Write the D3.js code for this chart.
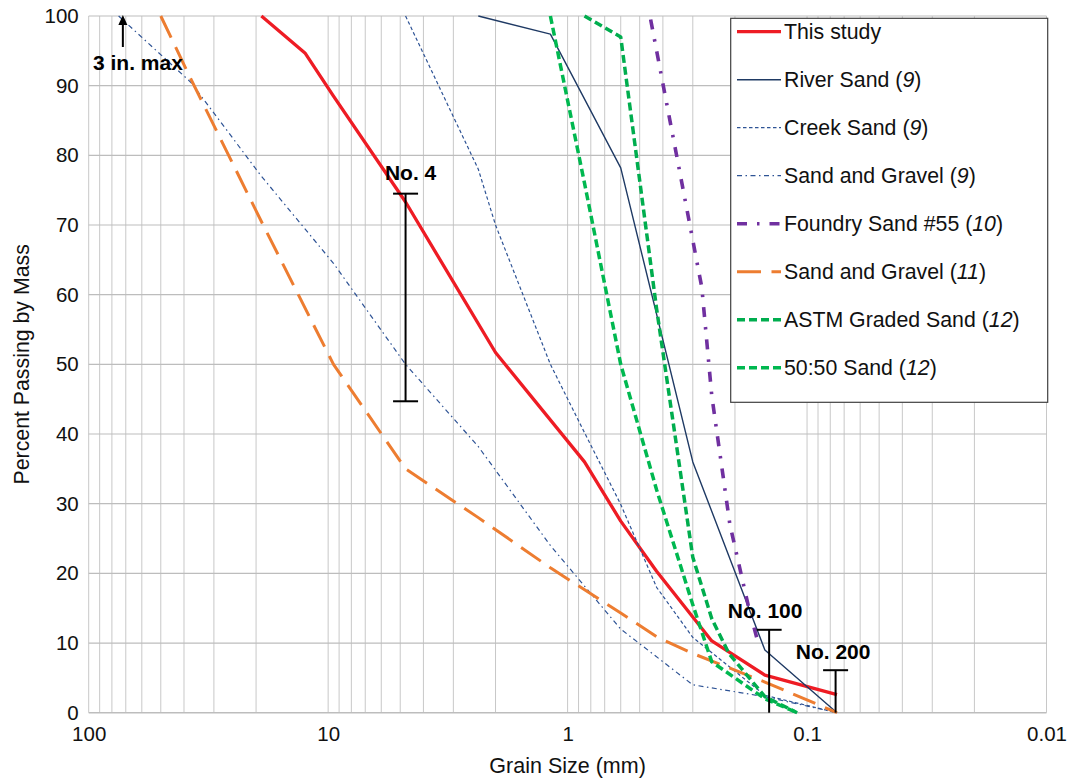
<!DOCTYPE html>
<html>
<head>
<meta charset="utf-8">
<script src="https://cdn.jsdelivr.net/npm/d3@7"></script>
<style>
body { margin: 0; background: #fff; }
svg { font-family: "Liberation Sans", Arial, Helvetica, sans-serif; }
</style>
</head>
<body>
<script>
/*Grain size (mm), percent passing by mass*/
var thisStudy = [[19,100],[12.5,94.7],[9.5,88.5],[4.75,73.3],[2.0,51.7],[0.85,36],[0.6,27.5],[0.425,20.3],[0.25,10.3],[0.15,5.4],[0.075,2.6]]
var riverSand = [[2.36,100],[1.18,97.4],[0.6,78.2],[0.3,36],[0.15,9],[0.075,0]]
var creekSand = [[4.75,100],[2.36,78],[2.0,70],[1.18,50],[0.85,40.2],[0.6,29.9],[0.425,18],[0.3,10.8],[0.15,2.5],[0.075,0]]
var sandGravel9 = [[75,100],[37.5,90.5],[19,77],[9.5,64.5],[4.75,50],[2.36,38.2],[1.18,24],[0.6,12],[0.3,4],[0.15,2.3],[0.075,0]]
var foundrySand = [[0.45,99.5],[0.275,61],[0.25,45.5],[0.21,27],[0.175,15],[0.16,10]]
var sandGravel11 = [[50,100],[37.5,91],[19,70.5],[9.5,50],[4.75,35],[2.36,28],[1.18,20.8],[0.6,14.3],[0.425,10.9],[0.3,8.5],[0.15,4.4],[0.075,0]]
var astmSand = [[0.85,100],[0.6,97],[0.425,58],[0.3,22.3],[0.25,13.5],[0.212,8.5],[0.15,2.3],[0.11,0]]
var sand5050 = [[1.18,100],[0.85,76],[0.6,50],[0.425,32],[0.3,15.5],[0.25,7.3],[0.15,2],[0.11,0]]

var seriesNames = ["This study", "River Sand", "Creek Sand", "Sand and Gravel", "Foundry Sand #55", "Sand and Gravel", "ASTM Graded Sand", "50:50 Sand"]
var seriesRefs = ["", "9", "9", "9", "10", "11", "12", "12"]

/*Axis ticks*/
var xTickValues = [100, 10, 1, 0.1, 0.01]
var xTickLabels = ["100", "10", "1", "0.1", "0.01"]
var yTickValues = [0, 10, 20, 30, 40, 50, 60, 70, 80, 90, 100]

/*Sieve marks: size, low, high, label*/
var sieveSizes = [4.75, 0.144, 0.076]
var sieveLow = [44.7, 0, 0]
var sieveHigh = [74.5, 11.9, 6.1]
var sieveLabels = ["No. 4", "No. 100", "No. 200"]

var maxSize = 72

/*styles for each series*/
var seriesData = [thisStudy, riverSand, creekSand, sandGravel9, foundrySand, sandGravel11, astmSand, sand5050]
var seriesStyle = [
	{color: "#ee1c24", width: 3.3, dash: null},
	{color: "#1f3a64", width: 1.4, dash: null},
	{color: "#2e5395", width: 1.2, dash: "3.5,2.5"},
	{color: "#2e5395", width: 1.2, dash: "5,3.5,1.5,3.5"},
	{color: "#7030a0", width: 3.6, dash: "10,10,2.5,10"},
	{color: "#ed7d31", width: 3, dash: "24,10.5"},
	{color: "#00ad4e", width: 3.5, dash: "8,4"},
	{color: "#00b850", width: 3.5, dash: "8,4"}
]

var width = 1067, height = 780
var plot = {left: 88.7, right: 1046.5, top: 16, bottom: 712.7}

var svg = d3.select("body").append("svg")
			.attr("width", width)
			.attr("height", height)

var xScale = d3.scaleLog().domain([100, 0.01]).range([plot.left, plot.right])
var yScale = d3.scaleLinear().domain([0, 100]).range([plot.bottom, plot.top])

/*grid lines*/
var minor = []
for (var e = -2; e <= 1; e++) {
	for (var k = 1; k <= 9; k++) minor.push(k * Math.pow(10, e))
}
minor.push(100)

var grid = svg.append("g").attr("class", "grid")

grid.selectAll(".vline").data(minor).enter()
	.append("line")
	.attr("class", "vline")
	.attr("x1", function(d){return xScale(d)})
	.attr("x2", function(d){return xScale(d)})
	.attr("y1", plot.top)
	.attr("y2", plot.bottom)
	.attr("stroke", "#c8c8c8")
	.attr("stroke-width", 1)

grid.selectAll(".hline").data(yTickValues).enter()
	.append("line")
	.attr("class", "hline")
	.attr("x1", plot.left)
	.attr("x2", plot.right)
	.attr("y1", function(d){return yScale(d)})
	.attr("y2", function(d){return yScale(d)})
	.attr("stroke", "#bdbdbd")
	.attr("stroke-width", d => d == 0 ? 1.6 : 1.2)

/*axes*/
var yAxis = d3.axisLeft(yScale).tickValues(yTickValues).tickSize(0).tickPadding(10)
var xAxis = d3.axisBottom(xScale).tickValues(xTickValues).tickSize(0).tickPadding(14)
			.tickFormat(function(d, i){return xTickLabels[i]})

var gy = svg.append("g").attr("transform", "translate(" + plot.left + ",0)").call(yAxis)
var gx = svg.append("g").attr("transform", "translate(0," + plot.bottom + ")").call(xAxis)

gy.select(".domain").remove()
gx.select(".domain").remove()
svg.selectAll(".tick text")
	.attr("font-size", 20.5)
	.attr("font-family", "Liberation Sans, Arial, sans-serif")
	.attr("fill", "#111")

svg.append("text")
	.attr("x", (plot.left + plot.right) / 2)
	.attr("y", 773)
	.attr("text-anchor", "middle")
	.attr("font-size", 21.5)
	.attr("fill", "#111")
	.text("Grain Size (mm)")

svg.append("text")
	.attr("transform", "translate(29," + (plot.top + plot.bottom) / 2 + ") rotate(-90)")
	.attr("text-anchor", "middle")
	.attr("font-size", 21.3)
	.attr("fill", "#111")
	.text("Percent Passing by Mass")

/*series lines*/
svg.append("clipPath").attr("id", "plotclip")
	.append("rect")
	.attr("x", plot.left).attr("y", plot.top - 2)
	.attr("width", plot.right - plot.left).attr("height", plot.bottom - plot.top + 4)

var line = d3.line()
	.x(function(d){return xScale(d[0])})
	.y(function(d){return yScale(d[1])})

svg.append("g").attr("clip-path", "url(#plotclip)")
	.selectAll("path").data(seriesData).enter()
	.append("path")
	.attr("d", line)
	.attr("fill", "none")
	.attr("stroke", function(d, i){return seriesStyle[i].color})
	.attr("stroke-width", function(d, i){return seriesStyle[i].width})
	.attr("stroke-dasharray", function(d, i){return seriesStyle[i].dash})
	.attr("stroke-linejoin", "round")

/*sieve range bars*/
var labelShift = [[5, -13.7], [-4, -12], [-2.5, -11]]
var bars = svg.append("g").attr("class", "sieves")
sieveSizes.forEach(function(s, i){
	var bx = xScale(s)
	var top = yScale(sieveHigh[i]), bot = yScale(sieveLow[i])
	bars.append("line").attr("x1", bx).attr("x2", bx).attr("y1", top).attr("y2", bot)
		.attr("stroke", "#000").attr("stroke-width", 2)
	bars.append("line").attr("x1", bx - 12.5).attr("x2", bx + 12.5).attr("y1", top).attr("y2", top)
		.attr("stroke", "#000").attr("stroke-width", 2)
	if (sieveLow[i] > 0) {
		bars.append("line").attr("x1", bx - 12.5).attr("x2", bx + 12.5).attr("y1", bot).attr("y2", bot)
			.attr("stroke", "#000").attr("stroke-width", 2)
	}
	bars.append("text")
		.attr("x", bx + labelShift[i][0])
		.attr("y", top + labelShift[i][1])
		.attr("text-anchor", "middle")
		.attr("font-size", 21)
		.attr("font-weight", "bold")
		.text(sieveLabels[i])
})

/*3 in. max arrow*/
var ax = xScale(maxSize)
svg.append("line").attr("x1", ax).attr("x2", ax).attr("y1", 47).attr("y2", 24)
	.attr("stroke", "#000").attr("stroke-width", 2)
svg.append("path")
	.attr("d", "M" + (ax - 4.5) + "," + 25 + " L" + ax + "," + 15 + " L" + (ax + 4.5) + "," + 25 + " Z")
	.attr("fill", "#000")
svg.append("text")
	.attr("x", 93)
	.attr("y", 70)
	.attr("font-size", 21)
	.attr("font-weight", "bold")
	.text("3 in. max")

/*legend*/
var legend = svg.append("g").attr("class", "legend")
legend.append("rect")
	.attr("x", 730.7).attr("y", 18.3)
	.attr("width", 317).attr("height", 384)
	.attr("fill", "#fff")
	.attr("stroke", "#404040")
	.attr("stroke-width", 1.2)

var rows = legend.selectAll(".row").data(seriesNames).enter()
	.append("g")
	.attr("class", "row")
	.attr("transform", function(d, i){return "translate(0," + (31.7 + i * 48) + ")"})

rows.append("line")
	.attr("x1", 737).attr("x2", 781)
	.attr("y1", 0).attr("y2", 0)
	.attr("stroke", function(d, i){return seriesStyle[i].color})
	.attr("stroke-width", function(d, i){return seriesStyle[i].width})
	.attr("stroke-dasharray", function(d, i){return seriesStyle[i].dash})

var texts = rows.append("text")
	.attr("x", 784)
	.attr("y", 7.5)
	.attr("font-size", 21.3)
	.attr("fill", "#111")

texts.append("tspan").text(function(d, i){return seriesRefs[i] ? d + " (" : d})
texts.append("tspan").attr("font-style", "italic").text(function(d, i){return seriesRefs[i]})
texts.append("tspan").text(function(d, i){return seriesRefs[i] ? ")" : ""})
</script>
</body>
</html>
